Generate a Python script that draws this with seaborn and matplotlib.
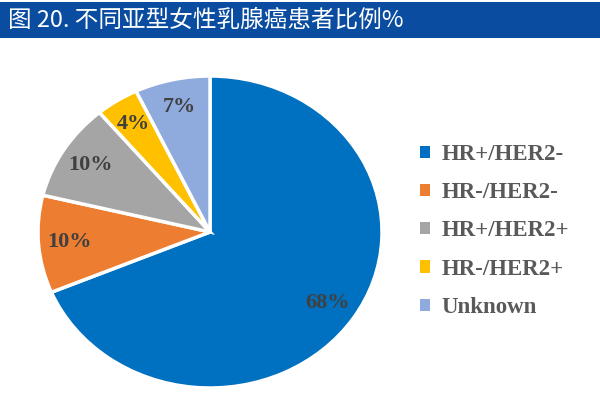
import matplotlib
matplotlib.use("Agg")
import matplotlib.pyplot as plt
from matplotlib.patches import Rectangle
import seaborn as sns

sns.set_theme(style="white")
plt.rcParams['font.family'] = ['Noto Sans CJK SC', 'DejaVu Sans']

## Data ##

title = "图 20. 不同亚型女性乳腺癌患者比例%"
subtypes = ["HR+/HER2-", "HR-/HER2-", "HR+/HER2+", "HR-/HER2+", "Unknown"]
shares = [68, 10, 10, 4, 7]
colors = ["#0070C0", "#ED7D31", "#A5A5A5", "#FFC000", "#8FAADC"]

serif = ['Liberation Serif', 'DejaVu Serif']

fig = plt.figure(figsize=(6, 4), dpi=100)

# title banner
fig.patches.append(Rectangle((0, 1 - 38 / 400), 1, 36 / 400, transform=fig.transFigure,
                             facecolor="#0A4C9F", edgecolor="none", zorder=0))
fig.text(8 / 600, 1 - 20 / 400, title, color="white", fontsize=17,
         va="center", ha="left")

# pie (slightly wider than tall, like the source)
ax = fig.add_axes([38 / 600, 12 / 400, 344 / 600, 312 / 400])
wedges, texts, autotexts = ax.pie(
    shares,
    colors=colors,
    startangle=90,
    counterclock=False,
    autopct=lambda p: "{:.0f}%".format(p * sum(shares) / 100),
    pctdistance=0.82,
    wedgeprops={'edgecolor': 'white', 'linewidth': 2.5},
    textprops={'fontsize': 16, 'fontweight': 'bold', 'color': '#404040', 'family': serif},
)
ax.set_aspect('auto')
ax.set_xlim(-1, 1)
ax.set_ylim(-1, 1)
ax.axis('off')

leg = fig.legend(wedges, subtypes, loc="center left", bbox_to_anchor=(399 / 600, 1 - 231 / 400),
                 frameon=False, handlelength=0.45, handleheight=0.45, handletextpad=0.5,
                 labelspacing=0.75, prop={'family': serif, 'weight': 'bold', 'size': 16.5})
for t in leg.get_texts():
    t.set_color('#595959')
for h in leg.legend_handles:
    h.set_edgecolor('none')

plt.savefig("out.png", dpi=100)
